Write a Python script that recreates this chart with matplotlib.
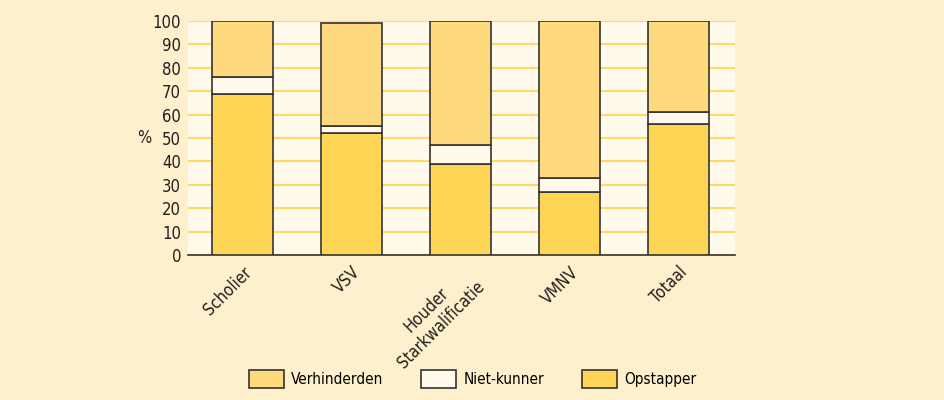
import matplotlib as mpl

mpl.use('Agg')
import matplotlib.pyplot as plt
import numpy as np

plt.rcParams['font.family'] = ['DejaVu Sans']
plt.rcParams['font.stretch'] = 'condensed'

#### Data ####
categories = ['Scholier', 'VSV', 'Houder\nStarkwalificatie', 'VMNV', 'Totaal']
opstapper = [69, 52, 39, 27, 56]
niet_kunner = [7, 3, 8, 6, 5]
verhinderden = [24, 44, 53, 67, 39]
yticks = list(range(0, 101, 10))

#### Colours ####
fig_bg = '#FEF0CC'
ax_bg = '#FFFAEB'
grid_col = '#FFD966'
edge = '#333333'
c_opst = '#FFD556'
c_niet = '#FFFAEB'
c_verh = '#FED97E'

fig = plt.figure(figsize=(9.45, 4), dpi=100, facecolor=fig_bg)
ax = fig.add_axes([0.199, 0.3625, 0.579, 0.585])
ax.set_facecolor(ax_bg)

x = np.arange(len(categories))
w = 0.56
opst = np.array(opstapper)
niet = np.array(niet_kunner)
verh = np.array(verhinderden)

ax.bar(x, opst, w, color=c_opst, edgecolor=edge, linewidth=1.2, zorder=3,
       label='Opstapper')
ax.bar(x, niet, w, bottom=opst, color=c_niet, edgecolor=edge, linewidth=1.2,
       zorder=3, label='Niet-kunner')
ax.bar(x, verh, w, bottom=opst + niet, color=c_verh, edgecolor=edge,
       linewidth=1.2, zorder=3, label='Verhinderden')

ax.set_xlim(-0.5, len(categories) - 0.48)
ax.set_ylim(0, 100)
ax.set_yticks(yticks)
ax.set_yticklabels([str(t) for t in yticks], fontsize=12, color='#231f20')
ax.yaxis.grid(True, color=grid_col, linewidth=1.5, zorder=0)
ax.tick_params(axis='both', length=0, pad=5)
for s in ['left', 'right', 'top']:
    ax.spines[s].set_visible(False)
ax.spines['bottom'].set_color(edge)
ax.spines['bottom'].set_linewidth(1.2)

ax.set_xticks(x)
ax.set_xticklabels(categories, rotation=45, ha='right', rotation_mode='anchor',
                   multialignment='center', fontsize=12, color='#231f20')
ax.tick_params(axis='x', pad=6)

ax.set_ylabel('%', rotation=0, fontsize=12, color='#231f20', labelpad=6,
              va='center')

handles, labels = ax.get_legend_handles_labels()
order = [2, 1, 0]
fig.legend([handles[i] for i in order], [labels[i] for i in order],
           loc='center', bbox_to_anchor=(0.5, 0.0525), ncol=3, frameon=False,
           fontsize=11, handlelength=2.3, handleheight=1.45, handletextpad=0.45,
           columnspacing=2.5)

plt.savefig('out.png', dpi=100, facecolor=fig_bg)
